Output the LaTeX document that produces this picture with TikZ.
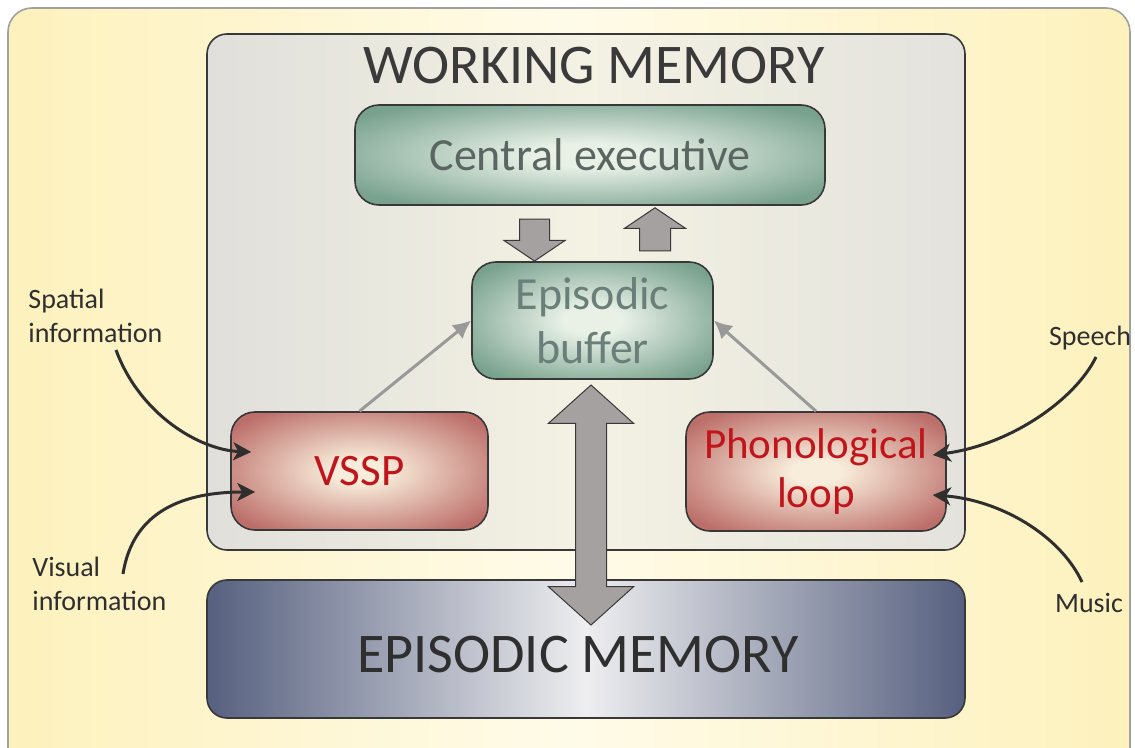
\documentclass[tikz,border=0pt]{standalone}
\usepackage{fontspec}
\setmainfont{Carlito}
\usetikzlibrary{shapes.arrows,arrows.meta,calc}

\definecolor{gelb}{HTML}{FDF1BC}
\definecolor{gelbhell}{HTML}{FFFBE9}
\definecolor{randgrau}{HTML}{A0A0A0}
\definecolor{rahmen}{HTML}{383838}
\definecolor{grauL}{HTML}{E0DFDB}
\definecolor{grauM}{HTML}{F4F2E3}
\definecolor{grauR}{HTML}{E3E2DD}
\definecolor{gruendunkel}{HTML}{78A18E}
\definecolor{gruenhell}{HTML}{E9F1E7}
\definecolor{gruentext}{HTML}{5B6663}
\definecolor{puffertext}{HTML}{6A7F7A}
\definecolor{rotdunkel}{HTML}{BC6E69}
\definecolor{rothell}{HTML}{F8ECDA}
\definecolor{rottext}{HTML}{C0161B}
\definecolor{blau}{HTML}{56607F}
\definecolor{blauhell}{HTML}{EEEEF0}
\definecolor{blockgrau}{HTML}{A5A1A1}
\definecolor{graupfeil}{HTML}{999999}
\definecolor{dunkel}{HTML}{2F2F2F}
\definecolor{titel}{HTML}{3A3A3A}

\pgfdeclareradialshading{gruenverlauf}{\pgfpoint{0bp}{0bp}}{color(0bp)=(gruenhell); color(6bp)=(gruenhell); color(31bp)=(gruendunkel); color(50bp)=(gruendunkel)}
\pgfdeclareradialshading{rotverlauf}{\pgfpoint{0bp}{0bp}}{color(0bp)=(rothell); color(5bp)=(rothell); color(31bp)=(rotdunkel); color(50bp)=(rotdunkel)}

\begin{document}
\begin{tikzpicture}[x=0.5pt,y=0.5pt,
  kasten/.style={draw=rahmen,line width=0.8pt,rounded corners=12pt,inner sep=0pt,align=center},
  gruen/.style={kasten,shading=gruenverlauf,font=\fontsize{23}{27}\selectfont},
  rot/.style={kasten,shading=rotverlauf,text=rottext,font=\fontsize{21.5}{24.5}\selectfont},
  block/.style={draw=rahmen,line width=0.5pt,fill=blockgrau,inner xsep=0pt},
  pfeil/.style={draw=graupfeil,line width=1.5pt,-{Latex[length=9pt,width=9pt]}},
  eingang/.style={draw=dunkel,line width=1.5pt,-{Stealth[length=9pt,width=9pt,inset=2.5pt]}},
  schrift/.style={text=dunkel,align=left,inner sep=0pt,font=\fontsize{14}{17}\selectfont}]
  \useasboundingbox (0,0) rectangle (1135,-748);

  % Hintergrund
  \path[draw=randgrau,line width=0.8pt,rounded corners=12pt,left color=gelb,right color=gelb,middle color=gelbhell] (8,-8) rectangle (1130,-775);

  % Knoten
  \node[kasten,rounded corners=10pt,minimum width=379pt,minimum height=258pt,left color=grauL,right color=grauR,middle color=grauM] (wm) at (586,-292) {};
  \node[text=titel,font=\fontsize{28}{32}\selectfont] (wmtitel) at (594,-66) {WORKING MEMORY};
  \node[gruen,text=gruentext,minimum width=235pt,minimum height=50pt] (ce) at (590,-155) {Central executive};
  \node[gruen,text=puffertext,minimum width=120.5pt,minimum height=58.5pt] (eb) at (592.5,-320.5) {Episodic\\buffer};
  \node[rot,minimum width=128.5pt,minimum height=59pt] (vssp) at (359.5,-471) {\fontsize{22.5}{25}\selectfont VSSP};
  \node[rot,minimum width=130pt,minimum height=59.5pt] (pl) at (816,-471.5) {Phonological\\loop};
  \node[kasten,rounded corners=10pt,minimum width=379pt,minimum height=69pt,left color=blau,right color=blau,middle color=blauhell] (em) at (586,-649) {};
  \node[text=dunkel,font=\fontsize{28}{32}\selectfont] (emtitel) at (578,-655) {EPISODIC MEMORY};

  % Beschriftungen
  \node[schrift,anchor=west] (raum) at (28,-316) {Spatial\\information};
  \node[schrift,anchor=west] (visuell) at (32,-584) {Visual\\information};
  \node[schrift] (sprache) at (1090,-338) {Speech};
  \node[schrift] (musik) at (1089,-603) {Music};

  % Blockpfeile
  \node[block,single arrow,rotate=-90,minimum height=21pt,inner ysep=7.25pt,single arrow head extend=7.75pt,single arrow tip angle=112] (runter) at (534.5,-235) {};
  \node[block,single arrow,rotate=90,minimum height=21.5pt,inner ysep=7.5pt,single arrow head extend=7.5pt,single arrow tip angle=112] (hoch) at (655,-234.5) {};
  \node[block,double arrow,rotate=90,minimum height=120pt,inner ysep=7.5pt,double arrow head extend=13.5pt,double arrow tip angle=96] (speicher) at (591,-505) {};

  % Pfeile
  \draw[pfeil] (vssp.north) -- (eb.west);
  \draw[pfeil] (pl.north) -- (eb.east);

  % Eingaenge
  \draw[eingang] (116,-350) .. controls (140,-415) and (200,-450) .. ($(vssp.west)+(21,19)$);
  \draw[eingang] (123,-574) .. controls (133,-510) and (185,-492) .. ($(vssp.west)+(25,-21)$);
  \draw[eingang] (1096,-357) .. controls (1075,-400) and (1010,-445) .. ($(pl.east)+(-14,16.5)$);
  \draw[eingang] (1082,-582) .. controls (1060,-535) and (1000,-500) .. ($(pl.east)+(-14,-23.5)$);
\end{tikzpicture}
\end{document}
